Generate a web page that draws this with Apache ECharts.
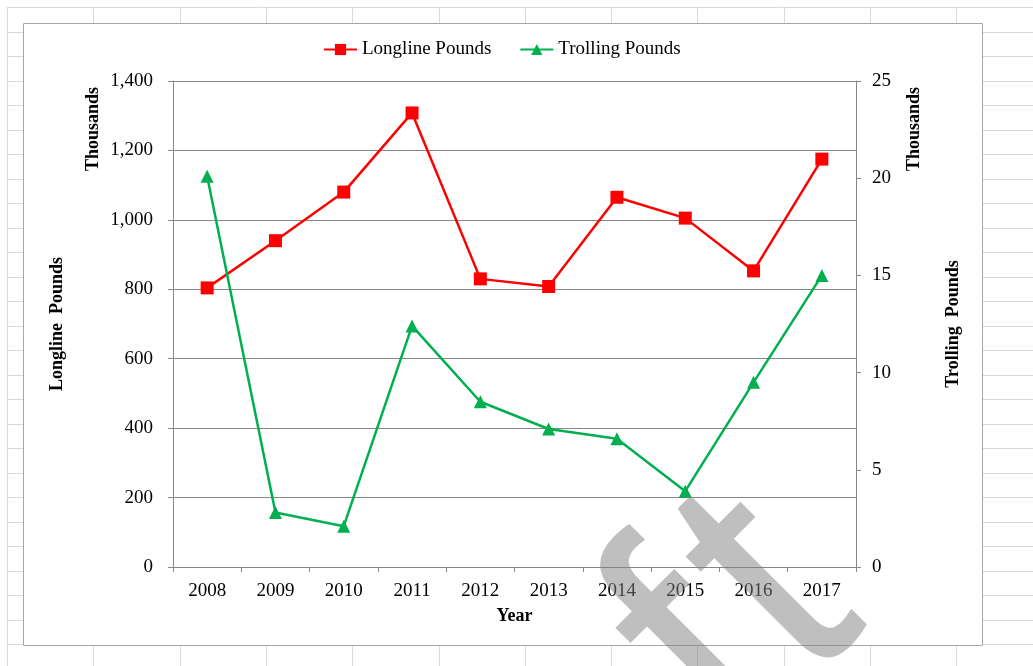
<!DOCTYPE html>
<html>
<head>
<meta charset="utf-8">
<script src="https://cdn.jsdelivr.net/npm/echarts@6/dist/echarts.min.js"></script>
<style>
html,body{margin:0;padding:0;background:#fff;}
#c{width:1033px;height:666px;}
</style>
</head>
<body>
<div id="c"></div>
<script>
const years = ['2008','2009','2010','2011','2012','2013','2014','2015','2016','2017'];
const longlinePounds = [804, 940, 1080, 1308, 830, 808, 1065, 1005, 853, 1175]; // thousands
const trollingPounds = [20.1, 2.8, 2.1, 12.4, 8.5, 7.1, 6.6, 3.9, 9.5, 15.0]; // thousands
const seriesNames = ['Longline Pounds', 'Trolling Pounds'];

const FONT = "'Liberation Serif', 'Times New Roman', serif";
const AXIS_GREY = '#878787';

// spreadsheet background cell grid
const bg = [];
const colX0 = 7, colW = 86.3, rowY0 = 7, rowH = 24.5;
for (let k = 0; k < 13; k++) {
  const x = Math.round(colX0 + k * colW) + 0.5;
  bg.push({type:'line', z:-100, silent:true, shape:{x1:x, y1:7, x2:x, y2:666}, style:{stroke:'#d9d9d9', lineWidth:1}});
}
for (let k = 0; k < 28; k++) {
  const y = Math.round(rowY0 + k * rowH) + 0.5;
  bg.push({type:'line', z:-100, silent:true, shape:{x1:7, y1:y, x2:1033, y2:y}, style:{stroke:'#d9d9d9', lineWidth:1}});
}
// chart area
bg.push({type:'rect', z:-90, silent:true, shape:{x:23.5, y:23.5, width:959, height:622}, style:{fill:'#fff', stroke:'#a6a6a6', lineWidth:1}});

// watermark glyphs
const wmStyle = {fontFamily:"'Liberation Sans', Arial, sans-serif", fontSize:305, fill:'rgba(128,128,128,0.5)', textAlign:'center', textVerticalAlign:'middle'};
const watermark = [
  {type:'text', zlevel:1, z:200, silent:true, x:703, y:660, rotation:Math.PI/4, scaleX:1.03, scaleY:1.1, style:Object.assign({text:'f'}, wmStyle)},
  {type:'text', zlevel:1, z:200, silent:true, x:773, y:589, rotation:Math.PI/4, scaleX:1.03, scaleY:1.1, style:Object.assign({text:'t'}, wmStyle)}
];

const chart = echarts.init(document.getElementById('c'));
chart.setOption({
  animation:false,
  backgroundColor:'transparent',
  textStyle:{fontFamily:FONT},
  legend:{
    left:318, top:35,
    itemWidth:33, itemHeight:14, itemGap:28,
    textStyle:{fontFamily:FONT, fontSize:19, color:'#000'},
    data:seriesNames
  },
  grid:{left:173, top:81, right:177, bottom:99, containLabel:false},
  xAxis:{
    type:'category', data:years, boundaryGap:true,
    name:'Year', nameLocation:'middle', nameGap:40,
    nameTextStyle:{fontFamily:FONT, fontSize:18, fontWeight:'bold', color:'#000'},
    axisLine:{show:true, lineStyle:{color:AXIS_GREY, width:1}},
    axisTick:{show:true, inside:false, length:5, alignWithLabel:false, lineStyle:{color:AXIS_GREY}},
    axisLabel:{fontFamily:FONT, fontSize:19, color:'#000', margin:15},
    splitLine:{show:false}
  },
  yAxis:[{
    type:'value', min:0, max:1400, interval:200, position:'left',
    name:'Longline  Pounds', nameLocation:'middle', nameGap:107, nameRotate:90,
    nameTextStyle:{fontFamily:FONT, fontSize:18, fontWeight:'bold', color:'#000'},
    axisLine:{show:true, lineStyle:{color:AXIS_GREY, width:1}},
    axisTick:{show:true, inside:false, length:5, lineStyle:{color:AXIS_GREY}},
    axisLabel:{fontFamily:FONT, fontSize:19, color:'#000', margin:20,
      formatter:v => v.toLocaleString('en-US')},
    splitLine:{show:true, lineStyle:{color:AXIS_GREY, width:1}}
  },{
    type:'value', min:0, max:25, interval:5, position:'right',
    name:'Trolling  Pounds', nameLocation:'middle', nameGap:88, nameRotate:90,
    nameTextStyle:{fontFamily:FONT, fontSize:18, fontWeight:'bold', color:'#000'},
    axisLine:{show:true, lineStyle:{color:AXIS_GREY, width:1}},
    axisTick:{show:true, inside:false, length:5, lineStyle:{color:AXIS_GREY}},
    axisLabel:{fontFamily:FONT, fontSize:19, color:'#000', margin:16},
    splitLine:{show:false}
  }],
  graphic:[
    ...bg,
    {type:'text', z:50, silent:true, x:93, y:129, rotation:Math.PI/2,
      style:{text:'Thousands', fontFamily:FONT, fontSize:18, fontWeight:'bold', fill:'#000', textAlign:'center', textVerticalAlign:'middle'}},
    {type:'text', z:50, silent:true, x:914, y:129, rotation:Math.PI/2,
      style:{text:'Thousands', fontFamily:FONT, fontSize:18, fontWeight:'bold', fill:'#000', textAlign:'center', textVerticalAlign:'middle'}},
    ...watermark
  ],
  series:[{
    name:seriesNames[0], type:'line', yAxisIndex:0, data:longlinePounds,
    symbol:'rect', symbolSize:13,
    lineStyle:{color:'#ff0000', width:2.5},
    itemStyle:{color:'#ff0000'}
  },{
    name:seriesNames[1], type:'line', yAxisIndex:1, data:trollingPounds,
    symbol:'triangle', symbolSize:13,
    lineStyle:{color:'#00b050', width:2.5},
    itemStyle:{color:'#00b050'}
  }]
});
</script>
</body>
</html>
